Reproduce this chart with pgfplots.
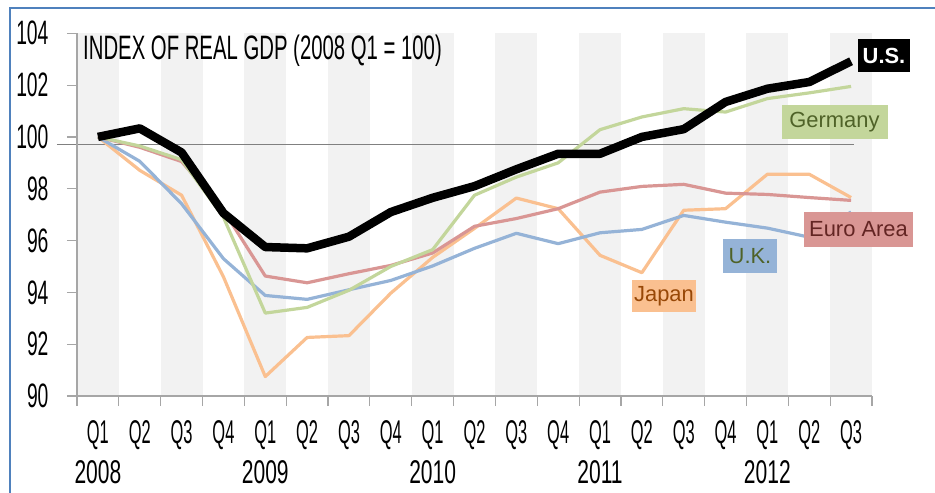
\documentclass[border=0pt]{standalone}
\usepackage{pgfplots}
\pgfplotsset{compat=1.18}
\usepackage{fontspec}
\setmainfont{Liberation Sans}
\newfontfamily\agency[FakeStretch=0.60]{Liberation Sans}
\newfontfamily\agencyq[FakeStretch=0.50]{Liberation Sans}
\newfontfamily\agencyw[FakeStretch=0.64]{Liberation Sans}
\newfontfamily\agencyy[FakeStretch=0.57]{Liberation Sans}
\definecolor{bandgray}{HTML}{F2F2F2}
\definecolor{axgray}{HTML}{A6A6A6}
\definecolor{refgray}{HTML}{808080}
\definecolor{cger}{HTML}{C3D69B}
\definecolor{ceur}{HTML}{D99694}
\definecolor{cuk}{HTML}{95B3D7}
\definecolor{cjp}{HTML}{FAC090}
\definecolor{tger}{HTML}{4F6228}
\definecolor{teur}{HTML}{632523}
\definecolor{tjp}{HTML}{984807}
\definecolor{frameblue}{HTML}{4F81BD}

\pgfplotstableread{
x US GER EUR UK JP
0 100.00 100.00 100.00 100.00 100.00
1 100.33 99.65 99.60 99.06 98.71
2 99.40 99.12 99.05 97.42 97.75
3 97.06 96.90 97.17 95.30 94.60
4 95.75 93.20 94.63 93.88 90.75
5 95.70 93.42 94.37 93.73 92.26
6 96.15 94.08 94.72 94.10 92.33
7 97.10 95.00 95.04 94.46 93.97
8 97.65 95.65 95.52 95.02 95.35
9 98.10 97.75 96.55 95.70 96.47
10 98.75 98.45 96.85 96.28 97.64
11 99.35 99.00 97.23 95.88 97.23
12 99.35 100.28 97.87 96.30 95.43
13 100.00 100.77 98.09 96.43 94.76
14 100.30 101.09 98.17 96.97 97.17
15 101.35 100.96 97.83 96.71 97.23
16 101.86 101.48 97.78 96.48 98.56
17 102.12 101.70 97.66 96.13 98.56
18 102.92 101.95 97.55 97.10 97.66
}\gdpdata

\begin{document}
\begin{tikzpicture}
\useasboundingbox (-77bp,-97bp) rectangle (858bp,396bp);
% blue frame (top and left)
\draw[frameblue, line width=2.5bp] (-67bp,-97bp) -- (-67bp,388bp) -- (858bp,388bp);
\begin{axis}[
  scale only axis,
  width=795bp, height=362.7bp,
  anchor=south west, at={(0,0)},
  xmin=-0.5, xmax=18.5, ymin=90, ymax=104,
  clip=false,
  axis on top,
  axis x line*=bottom, axis y line*=left,
  axis line style={axgray, line width=1.2bp, -},
  ytick={90,92,...,104},
  xtick={-0.5,0.5,...,18.5},
  xticklabels={},
  tick align=outside,
  major tick length=10bp,
  tick style={axgray, line width=1.2bp},
  yticklabel style={font=\agencyy\fontsize{34}{34}\selectfont, anchor=east, xshift=-15bp},
  /pgf/number format/assume math mode=true,
  extra x ticks={0,...,18},
  extra x tick labels={Q1\\{\agencyw 2008},Q2,Q3,Q4,Q1\\{\agencyw 2009},Q2,Q3,Q4,Q1\\{\agencyw 2010},Q2,Q3,Q4,Q1\\{\agencyw 2011},Q2,Q3,Q4,Q1\\{\agencyw 2012},Q2,Q3},
  extra x tick style={major tick length=0pt, tick label style={font=\agencyq\fontsize{33}{40}\selectfont, align=center, anchor=north, yshift=-21bp}},
]
\pgfplotsinvokeforeach{0,2,...,18}{
  \fill[bandgray] (axis cs:#1-0.5,90) rectangle (axis cs:#1+0.5,104);
}
\draw[refgray, line width=1.3bp] (axis cs:-0.98,99.7) -- (axis cs:18.08,99.7);
\addplot[cjp, line width=3.2bp, line join=round] table[x=x,y=JP] {\gdpdata};
\addplot[cuk, line width=3.2bp, line join=round] table[x=x,y=UK] {\gdpdata};
\addplot[ceur, line width=3.2bp, line join=round] table[x=x,y=EUR] {\gdpdata};
\addplot[cger, line width=3.2bp, line join=round] table[x=x,y=GER] {\gdpdata};
\addplot[black, line width=8.5bp, line join=round] table[x=x,y=US] {\gdpdata};
\end{axis}
% title
\node[anchor=west, inner sep=0pt, font=\agency\fontsize{34}{34}\selectfont] at (6bp,345bp) {INDEX OF REAL GDP (2008 Q1 = 100)};
% labels
\node[fill=black, text=white, font=\bfseries\fontsize{22}{22}\selectfont, minimum width=52bp, minimum height=33bp, inner sep=0pt] at (807bp,340bp) {U.S.};
\node[fill=cger, text=tger, font=\fontsize{22}{22}\selectfont, minimum width=106bp, minimum height=34bp, inner sep=0pt] at (757.5bp,273.5bp) {Germany};
\node[fill=ceur, text=teur, font=\fontsize{22}{22}\selectfont, minimum width=109bp, minimum height=35bp, inner sep=0pt] at (781.5bp,166.5bp) {Euro Area};
\node[fill=cuk, text=tger, font=\fontsize{22}{22}\selectfont, minimum width=54bp, minimum height=34bp, inner sep=0pt] at (673bp,140bp) {U.K.};
\node[fill=cjp, text=tjp, font=\fontsize{22}{22}\selectfont, minimum width=64bp, minimum height=32bp, inner sep=0pt] at (587bp,100bp) {Japan};
\end{tikzpicture}
\end{document}
